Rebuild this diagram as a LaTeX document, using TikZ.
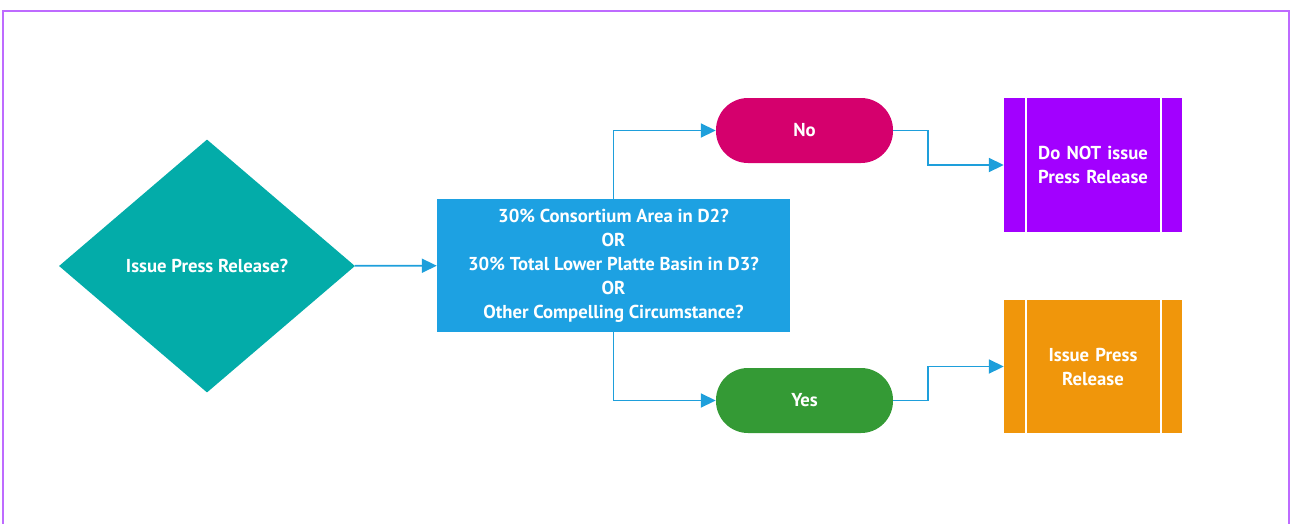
\documentclass[tikz,border=0pt]{standalone}
\usepackage{fontspec}
\setmainfont{PT Sans}
\usetikzlibrary{arrows.meta, shapes.geometric}
\definecolor{frameviolet}{HTML}{BE6BFF}
\definecolor{flowblue}{HTML}{1E9FDB}
\definecolor{askteal}{HTML}{03ACA9}
\definecolor{critblue}{HTML}{1DA1E2}
\definecolor{nomagenta}{HTML}{D5006D}
\definecolor{yesgreen}{HTML}{349A35}
\definecolor{stoppurple}{HTML}{A200FF}
\definecolor{goorange}{HTML}{F0960B}

\tikzset{
  box/.style={draw=none, text=white, align=center, font=\fontsize{18.7}{24}\selectfont\bfseries},
  decision/.style={box, diamond, fill=askteal, minimum width=296pt, minimum height=253pt, inner sep=0pt},
  criteria/.style={box, rectangle, fill=critblue, minimum width=353pt, minimum height=133pt},
  answer/.style={box, rectangle, rounded corners=32pt, minimum width=177pt, minimum height=65pt},
  procbox/.style={box, rectangle, minimum width=178pt, minimum height=134pt, text width=150pt,
    path picture={
      \draw[white, line width=1.5pt]
        ([xshift=22pt]path picture bounding box.north west) -- ([xshift=22pt]path picture bounding box.south west)
        ([xshift=-21pt]path picture bounding box.north east) -- ([xshift=-21pt]path picture bounding box.south east);
    }},
  flow/.style={flowblue, line width=1.8pt, -{Triangle[length=15pt, width=14pt]}}
}

\begin{document}
\begin{tikzpicture}[x=1pt, y=-1pt]

% Frame (bottom edge runs off the picture)
\useasboundingbox (0,0) rectangle (1291,523);
\draw[frameviolet, line width=2pt] (3,540) -- (3,11) -- (1289,11) -- (1289,540);

% Nodes
\node[decision] (ask) at (207,266) {Issue Press Release?};
\node[criteria] (crit) at (613.5,265.5)
  {30\% Consortium Area in D2?\\OR\\30\% Total Lower Platte Basin in D3?\\OR\\Other Compelling Circumstance?};
\node[answer, fill=nomagenta] (no) at (804.5,130.5) {No};
\node[answer, fill=yesgreen] (yes) at (804.5,400.5) {Yes};
\node[procbox, fill=stoppurple] (stop) at (1093,165) {Do NOT issue\\Press Release};
\node[procbox, fill=goorange, minimum height=133pt] (go) at (1093,366.5) {Issue Press\\Release};

% Connectors
\draw[flow] (ask) -- (crit);
\draw[flow] (crit.north) |- (no.west);
\draw[flow] (crit.south) |- (yes.west);
\draw[flow] (no.east) -- ++(35,0) |- (stop.west);
\draw[flow] (yes.east) -- ++(35,0) |- (go.west);

\end{tikzpicture}
\end{document}
